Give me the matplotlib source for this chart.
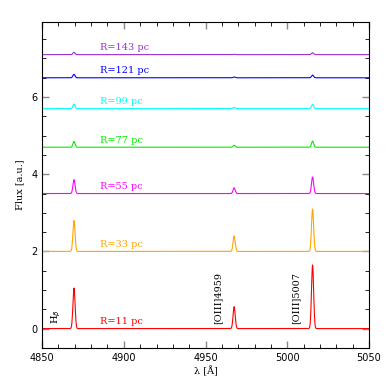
import numpy as np
import matplotlib
matplotlib.use('Agg')
import matplotlib.pyplot as plt
from matplotlib.ticker import MultipleLocator

# radii of the extraction regions and their colours
radii = [11, 33, 55, 77, 99, 121, 143]
colors = ['#ff0000', '#ffa500', '#ff00ff', '#00ee00', '#00ffff', '#0000ff', '#9b30d0']
# vertical offsets of each spectrum
offsets = [0.0, 2.0, 3.5, 4.7, 5.7, 6.5, 7.1]
# observed line centres (Hb, [OIII]4959, [OIII]5007)
centres = [4869.5, 4967.5, 5015.5]
# peak heights above the continuum for each spectrum
hb_peak = [1.05, 0.80, 0.36, 0.15, 0.12, 0.09, 0.06]
o4959_peak = [0.57, 0.40, 0.15, 0.05, 0.03, 0.02, 0.01]
o5007_peak = [1.65, 1.10, 0.43, 0.16, 0.11, 0.07, 0.05]

lam = np.linspace(4850, 5050, 1200)
sig = 0.65

fig, ax = plt.subplots(figsize=(3.9, 3.9), dpi=100)
fig.subplots_adjust(left=0.108, right=0.946, bottom=0.108, top=0.944)

for i in range(len(radii)):
    flux = np.full_like(lam, offsets[i])
    for c, a in zip(centres, [hb_peak[i], o4959_peak[i], o5007_peak[i]]):
        flux += a * np.exp(-0.5 * ((lam - c) / sig) ** 2)
    ax.plot(lam, flux, color=colors[i], lw=0.8)
    ax.text(4885.5, offsets[i] + 0.07, 'R=%d pc' % radii[i], color=colors[i],
            fontsize=7, family='DejaVu Serif', va='bottom')

ax.text(4858.5, 0.12, r'H$_\beta$', rotation=90, fontsize=7, family='DejaVu Serif',
        ha='center', va='bottom')
ax.text(4957.5, 0.12, '[OIII]4959', rotation=90, fontsize=7, family='DejaVu Serif',
        ha='center', va='bottom')
ax.text(5005.5, 0.12, '[OIII]5007', rotation=90, fontsize=7, family='DejaVu Serif',
        ha='center', va='bottom')

ax.set_xlim(4850, 5050)
ax.set_ylim(-0.5, 7.95)
ax.xaxis.set_major_locator(MultipleLocator(50))
ax.xaxis.set_minor_locator(MultipleLocator(10))
ax.yaxis.set_major_locator(MultipleLocator(2))
ax.yaxis.set_minor_locator(MultipleLocator(0.5))
ax.tick_params(which='both', direction='in', top=True, right=True, labelsize=7)
ax.tick_params(which='major', length=5, width=1.0, color='#888888')
ax.tick_params(which='minor', length=3)
ax.set_xlabel('λ [Å]', fontsize=7, family='DejaVu Serif', labelpad=2)
ax.set_ylabel('Flux [a.u.]', fontsize=7, family='DejaVu Serif', labelpad=5)

plt.savefig('out.png', dpi=100)
